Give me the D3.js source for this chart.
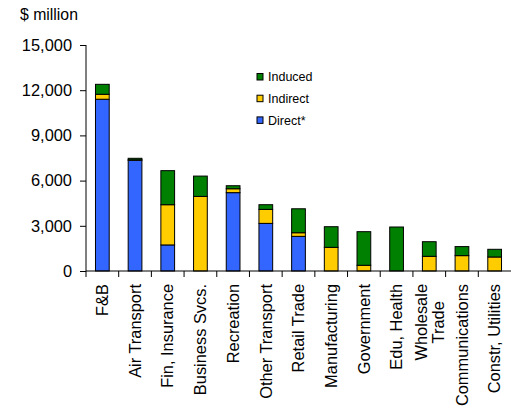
<!DOCTYPE html>
<html>
<head>
<meta charset="utf-8">
<script src="https://cdn.jsdelivr.net/npm/d3@7"></script>
<style>
  html, body { margin: 0; padding: 0; background: #fff; }
  svg { display: block; font-family: "Liberation Sans", Arial, sans-serif; }
</style>
</head>
<body>
<svg id="chart" width="511" height="409"></svg>
<script>
// Economic impact by sector ($ million), split into direct, indirect and induced effects
const categories = ["F&B", "Air Transport", "Fin, Insurance", "Business Svcs.", "Recreation",
  "Other Transport", "Retail Trade", "Manufacturing", "Government", "Edu, Health",
  "Wholesale\nTrade", "Communications", "Constr, Utilities"];
const direct   = [11400, 7350, 1730,    0, 5200, 3160, 2300,    0,    0,    0,   0,    0,   0];
const indirect = [  330,   30, 2670, 4950,  260,  930,  240, 1570,  380,    0, 975, 1020, 930];
const induced  = [  660,  100, 2260, 1350,  200,  310, 1590, 1370, 2230, 2920, 970,  600, 510];
const yTicks = [0, 3000, 6000, 9000, 12000, 15000];

const seriesNames = ["Direct*", "Indirect", "Induced"];
const seriesColors = ["#3366FF", "#FFCC00", "#008000"];

const svg = d3.select("#chart");
const plotL = 86, plotR = 511, plotT = 45, plotB = 271;

const x = d3.scaleBand().domain(categories).range([plotL, plotR]).padding(0);
const y = d3.scaleLinear().domain([0, 15000]).range([plotB, plotT]);
const barW = x.bandwidth() * 0.42;

const rows = categories.map((c, i) => ({ cat: c, "Direct*": direct[i], "Indirect": indirect[i], "Induced": induced[i] }));
const stacked = d3.stack().keys(seriesNames)(rows);

// stacked bars
svg.append("g").selectAll("g")
  .data(stacked)
  .join("g")
  .attr("fill", (d, i) => seriesColors[i])
  .selectAll("rect")
  .data(d => d.filter(p => p[1] - p[0] > 0))
  .join("rect")
  .attr("x", d => x(d.data.cat) + (x.bandwidth() - barW) / 2)
  .attr("y", d => y(d[1]))
  .attr("width", barW)
  .attr("height", d => y(d[0]) - y(d[1]))
  .attr("stroke", "#000")
  .attr("stroke-width", 1);

// y axis
const yAxis = d3.axisLeft(y).tickValues(yTicks).tickSize(6).tickPadding(8)
  .tickFormat(d3.format(","));
const gy = svg.append("g").attr("transform", `translate(${plotL},0)`).call(yAxis);
gy.select(".domain").attr("stroke", "#000").attr("d", `M0,${plotT}V${plotB + 6}`);
gy.selectAll("text").attr("font-size", 16.4).attr("fill", "#000")
  .attr("font-family", "Liberation Sans, Arial, sans-serif");

// x axis
const gx = svg.append("g").attr("transform", `translate(0,${plotB})`);
gx.append("line").attr("x1", plotL).attr("x2", plotR).attr("stroke", "#000");
const boundaries = d3.range(1, categories.length).map(i => x(categories[i]));
gx.selectAll("line.tick").data(boundaries).join("line").attr("class", "tick")
  .attr("x1", d => d).attr("x2", d => d).attr("y1", 0).attr("y2", 6).attr("stroke", "#000");

// category labels (rotated)
const labels = gx.selectAll("text.cat").data(categories).join("text").attr("class", "cat")
  .attr("transform", d => `translate(${x(d) + x.bandwidth() / 2},13) rotate(-90)`)
  .attr("font-size", 16.4).attr("fill", "#000");
labels.each(function (d) {
  const lines = d.split("\n");
  const t = d3.select(this);
  lines.forEach((l, i) => {
    const off = (i - (lines.length - 1) / 2) * 17;
    t.append("tspan")
      .attr("x", 0)
      .attr("y", off)
      .attr("dy", "0.35em")
      .attr("text-anchor", lines.length > 1 ? "middle" : "end")
      .text(l);
  });
  if (lines.length > 1) {
    // lines centred on each other, block ending at the axis side
    const w = this.getBBox().width;
    t.selectAll("tspan").attr("x", -w / 2);
  }
});

// unit label
svg.append("text").attr("x", 20).attr("y", 20).attr("font-size", 15.8).attr("fill", "#000").text("$ million");

// legend
const legendItems = ["Induced", "Indirect", "Direct*"];
const lg = svg.append("g").attr("transform", "translate(257,77)");
legendItems.forEach((name, i) => {
  const g = lg.append("g").attr("transform", `translate(0,${i * 21.7})`);
  g.append("rect").attr("x", 0).attr("y", -3.5).attr("width", 6).attr("height", 6.5)
    .attr("fill", seriesColors[seriesNames.indexOf(name)]).attr("stroke", "#000");
  g.append("text").attr("x", 11).attr("y", 0).attr("dy", "0.35em")
    .attr("font-size", 12.5).attr("fill", "#000").text(name);
});
</script>
</body>
</html>
